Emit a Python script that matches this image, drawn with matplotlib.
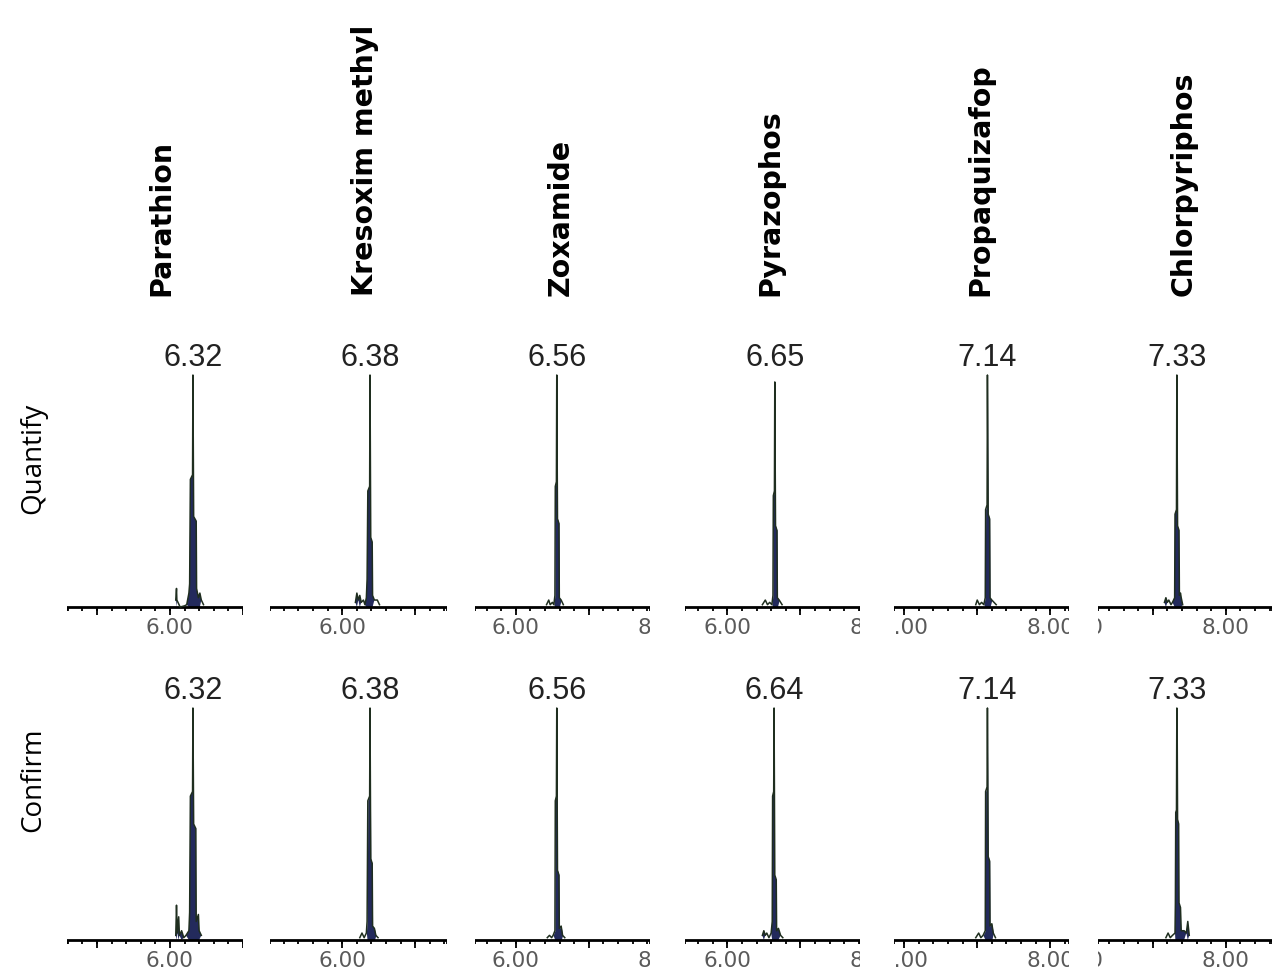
import numpy as np
import matplotlib
matplotlib.use("Agg")
import matplotlib.pyplot as plt

# compounds and retention times
compounds = ["Parathion", "Kresoxim methyl", "Zoxamide", "Pyrazophos",
             "Propaquizafop", "Chlorpyriphos"]
rt_quantify = [6.32, 6.38, 6.56, 6.65, 7.14, 7.33]
rt_confirm = [6.32, 6.38, 6.56, 6.64, 7.14, 7.33]
row_names = ["Quantify", "Confirm"]

# visible time window of each panel (min) and labelled ticks
xlims = [(4.59, 7.00), (5.01, 7.43), (5.44, 7.84), (5.42, 7.82), (5.86, 8.26), (6.25, 8.64)]
tick_labels = [[6.0], [6.0], [6.0, 8.0], [6.0, 8.0], [6.0, 8.0], [6.0, 8.0]]

# traces: time (min), relative intensity (%)
parathion_q_t = [6.08, 6.09, 6.095, 6.14, 6.20, 6.23, 6.26, 6.27, 6.28, 6.31, 6.315, 6.325, 6.36, 6.365, 6.39, 6.41, 6.43, 6.46]
parathion_q_y = [3, 8, 3, 0, 0.5, 1, 6, 10, 55, 57, 100, 39, 37, 8, 4, 6, 3, 1]
kresoxim_q_t = [6.18, 6.20, 6.22, 6.24, 6.26, 6.29, 6.31, 6.33, 6.34, 6.35, 6.375, 6.38, 6.39, 6.41, 6.415, 6.44, 6.48, 6.51]
kresoxim_q_y = [2, 6, 3, 5, 2, 3, 1, 4, 12, 50, 52, 100, 30, 28, 5, 3, 3, 1]
zoxamide_q_t = [6.42, 6.45, 6.47, 6.50, 6.52, 6.535, 6.54, 6.555, 6.56, 6.57, 6.59, 6.595, 6.62, 6.65]
zoxamide_q_y = [1, 3, 1, 2, 1, 5, 52, 54, 100, 38, 36, 4, 3, 1]
pyrazophos_q_t = [6.48, 6.52, 6.55, 6.58, 6.61, 6.625, 6.63, 6.645, 6.65, 6.66, 6.68, 6.685, 6.71, 6.75]
pyrazophos_q_y = [1, 3, 1, 2, 1, 5, 48, 50, 97, 35, 33, 4, 3, 1]
propaquizafop_q_t = [6.98, 7.00, 7.03, 7.06, 7.09, 7.11, 7.115, 7.135, 7.14, 7.15, 7.17, 7.175, 7.20, 7.23, 7.26]
propaquizafop_q_y = [1, 3, 1, 2, 1, 4, 42, 44, 100, 40, 38, 4, 3, 2, 1]
chlorpyriphos_q_t = [7.16, 7.18, 7.20, 7.22, 7.25, 7.27, 7.30, 7.305, 7.325, 7.33, 7.34, 7.36, 7.365, 7.38, 7.39, 7.41]
chlorpyriphos_q_y = [2, 4, 2, 3, 1, 2, 4, 40, 42, 100, 35, 33, 5, 6, 4, 1]

parathion_c_t = [6.08, 6.09, 6.10, 6.12, 6.13, 6.16, 6.19, 6.22, 6.26, 6.27, 6.28, 6.31, 6.315, 6.325, 6.355, 6.36, 6.39, 6.40, 6.43]
parathion_c_y = [2, 15, 3, 10, 2, 4, 1, 2, 4, 12, 62, 64, 100, 50, 48, 8, 11, 4, 2]
kresoxim_c_t = [6.24, 6.27, 6.30, 6.33, 6.34, 6.35, 6.375, 6.38, 6.39, 6.41, 6.415, 6.44, 6.46, 6.49]
kresoxim_c_y = [1, 3, 1, 3, 8, 60, 62, 100, 35, 33, 6, 5, 2, 1]
zoxamide_c_t = [6.43, 6.46, 6.49, 6.51, 6.535, 6.54, 6.555, 6.56, 6.57, 6.59, 6.595, 6.62, 6.64, 6.67]
zoxamide_c_y = [1, 2, 1, 2, 4, 60, 62, 100, 30, 28, 5, 6, 2, 1]
pyrazophos_c_t = [6.48, 6.50, 6.52, 6.54, 6.57, 6.60, 6.615, 6.62, 6.635, 6.64, 6.65, 6.67, 6.675, 6.70, 6.73, 6.76]
pyrazophos_c_y = [2, 4, 2, 3, 1, 3, 8, 62, 64, 100, 28, 26, 4, 5, 2, 1]
propaquizafop_c_t = [6.98, 7.02, 7.05, 7.08, 7.11, 7.115, 7.135, 7.14, 7.15, 7.17, 7.175, 7.20, 7.22, 7.25]
propaquizafop_c_y = [1, 3, 1, 2, 4, 64, 66, 100, 36, 34, 6, 7, 3, 1]
chlorpyriphos_c_t = [7.18, 7.21, 7.24, 7.27, 7.305, 7.31, 7.315, 7.325, 7.33, 7.335, 7.34, 7.355, 7.36, 7.38, 7.39, 7.43, 7.46, 7.48, 7.50]
chlorpyriphos_c_y = [1, 3, 1, 2, 3, 16, 55, 56, 100, 88, 52, 50, 16, 14, 4, 4, 3, 8, 2]

traces = [
    [(parathion_q_t, parathion_q_y), (kresoxim_q_t, kresoxim_q_y), (zoxamide_q_t, zoxamide_q_y),
     (pyrazophos_q_t, pyrazophos_q_y), (propaquizafop_q_t, propaquizafop_q_y), (chlorpyriphos_q_t, chlorpyriphos_q_y)],
    [(parathion_c_t, parathion_c_y), (kresoxim_c_t, kresoxim_c_y), (zoxamide_c_t, zoxamide_c_y),
     (pyrazophos_c_t, pyrazophos_c_y), (propaquizafop_c_t, propaquizafop_c_y), (chlorpyriphos_c_t, chlorpyriphos_c_y)],
]
rts = [rt_quantify, rt_confirm]

# layout in pixels
W, H = 1273, 974
PX_PER_MIN = 73.0
PX_PER_UNIT = 2.32
axis_left_px = [67, 270, 475, 685, 894, 1098]
baseline_px = [607, 940]
title_x_px = [161, 365, 561, 770, 980, 1184]
BELOW, ABOVE = 38, 272

line_col = "#1f2e1f"
fill_col = "#232a5c"

fig = plt.figure(figsize=(W / 100, H / 100), dpi=100)

for r in range(2):
    for c in range(6):
        x0, x1 = xlims[c]
        w_px = (x1 - x0) * PX_PER_MIN
        ax = fig.add_axes([axis_left_px[c] / W, (H - baseline_px[r] - BELOW) / H,
                           w_px / W, (BELOW + ABOVE) / H])
        ax.set_xlim(x0, x1)
        ax.set_ylim(-BELOW / PX_PER_UNIT, ABOVE / PX_PER_UNIT)
        ax.axis("off")

        # axis line and ticks
        ax.axhline(0, color="black", lw=2)
        minor = np.arange(np.ceil(x0 / 0.2) * 0.2, x1 + 1e-6, 0.2)
        major = np.arange(np.ceil(x0), x1 + 1e-6, 1.0)
        ax.vlines(minor, -4 / PX_PER_UNIT, 0, color="black", lw=1.3)
        ax.vlines(major, -8 / PX_PER_UNIT, 0, color="black", lw=1.3)
        ax.vlines([x0, x1], -4 / PX_PER_UNIT, 0, color="black", lw=1.3)
        for tv in tick_labels[c]:
            ax.text(tv, -21 / PX_PER_UNIT, f"{tv:.2f}", ha="center", va="center",
                    fontsize=15.5, color="#5a5a5a",
                    family=["Liberation Sans Narrow", "DejaVu Sans"], clip_on=True)

        # chromatogram trace
        t, y = traces[r][c]
        t = np.array(t)
        y = np.array(y, dtype=float)
        ax.fill_between(t, y, 0, where=y > 3.5, interpolate=True, color=fill_col, lw=0)
        ax.plot(t, y, color=line_col, lw=1.1)

        rt = rts[r][c]
        ax.text(rt, 104, f"{rt:.2f}", ha="center", va="baseline", fontsize=22,
                color="#222222", family="Liberation Sans")

# compound names
for c, name in enumerate(compounds):
    fig.text(title_x_px[c] / W, (H - 296) / H, name, rotation=90, ha="center",
             va="bottom", fontsize=20.5, fontweight="bold", family="DejaVu Sans")

# row names
fig.text(33 / W, (H - 458) / H, row_names[0], rotation=90, ha="center", va="center",
         fontsize=20, family="Open Sans")
fig.text(33 / W, (H - 780) / H, row_names[1], rotation=90, ha="center", va="center",
         fontsize=20, family="Open Sans")

fig.savefig("out.png", dpi=100, facecolor="white")
